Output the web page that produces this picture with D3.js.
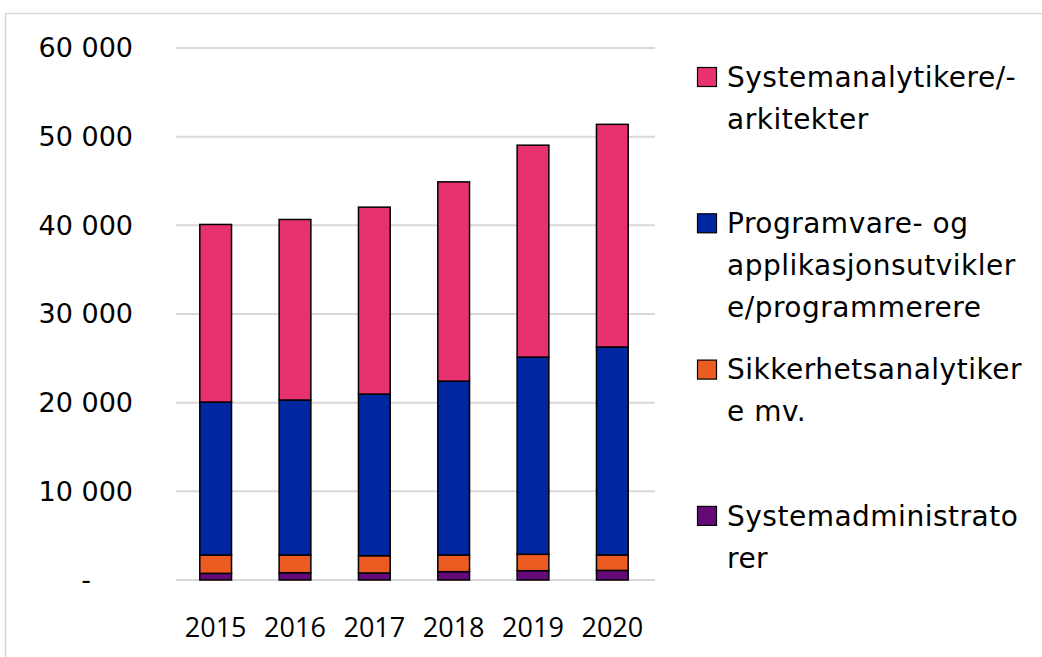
<!DOCTYPE html>
<html>
<head>
<meta charset="utf-8">
<script src="https://cdn.jsdelivr.net/npm/d3@7"></script>
<style>
  body { margin: 0; background: #fff; }
  text { font-family: "Open Sans", "Noto Sans", sans-serif; fill: #000; }
  .wide { font-family: "DejaVu Sans", "Open Sans", sans-serif; }
</style>
</head>
<body>
<div id="chart"></div>
<script>
// data
const years = ["2015", "2016", "2017", "2018", "2019", "2020"];
const systemadmin = [750, 820, 790, 940, 1050, 1080];
const sikkerhet = [2070, 2000, 1950, 1880, 1850, 1750];
const programvare = [17250, 17480, 18230, 19610, 22240, 23450];
const systemanalytikere = [20030, 20360, 21080, 22470, 23900, 25110];
const yTicks = [0, 10000, 20000, 30000, 40000, 50000, 60000];

const seriesKeys = ["systemadmin", "sikkerhet", "programvare", "systemanalytikere"];
const seriesColors = ["#640a78", "#ec5b21", "#0026a0", "#e83171"];
// legend is listed top-down in reverse stacking order
const legendLines = [
    ["Systemanalytikere/-", "arkitekter"],
    ["Programvare- og", "applikasjonsutvikler", "e/programmerere"],
    ["Sikkerhetsanalytiker", "e mv."],
    ["Systemadministrato", "rer"]
];
const legendColors = ["#e83171", "#0026a0", "#ec5b21", "#640a78"];

const width = 1042, height = 657;

const svg = d3.select("#chart")
    .append("svg")
    .attr("width", width)
    .attr("height", height);

// outer frame
svg.append("rect")
    .attr("x", 5.5)
    .attr("y", 13.5)
    .attr("width", 1100)
    .attr("height", 700)
    .attr("fill", "none")
    .attr("stroke", "#d9d9d9")
    .attr("stroke-width", 1.5);

const x = d3.scaleBand()
    .domain(years)
    .range([176, 652])
    .paddingInner(0.6)
    .paddingOuter(0.3);

const y = d3.scaleLinear()
    .domain([0, 60000])
    .range([580, 48]);

// gridlines
svg.append("g")
    .selectAll("line")
    .data(yTicks)
    .join("line")
    .attr("x1", 176)
    .attr("x2", 655)
    .attr("y1", d => y(d))
    .attr("y2", d => y(d))
    .attr("stroke", "#d9d9d9")
    .attr("stroke-width", 2);

// y labels
const fmt = d => d === 0 ? "-" : d3.format(",")(d).replace(/,/g, " ");
svg.append("g")
    .selectAll("text")
    .data(yTicks)
    .join("text")
    .attr("class", "wide")
    .attr("x", d => d === 0 ? 91 : 133)
    .attr("y", d => y(d))
    .attr("dy", "0.35em")
    .attr("text-anchor", "end")
    .attr("font-size", 27)
    .text(fmt);

// x labels
svg.append("g")
    .selectAll("text")
    .data(years)
    .join("text")
    .attr("x", d => x(d) + x.bandwidth() / 2)
    .attr("y", 637)
    .attr("text-anchor", "middle")
    .attr("font-size", 27)
    .text(d => d);

// stacked bars
const table = years.map((yr, i) => ({
    year: yr,
    systemadmin: systemadmin[i],
    sikkerhet: sikkerhet[i],
    programvare: programvare[i],
    systemanalytikere: systemanalytikere[i]
}));
const stacked = d3.stack().keys(seriesKeys)(table);

svg.append("g")
    .selectAll("g")
    .data(stacked)
    .join("g")
    .attr("fill", (d, i) => seriesColors[i])
    .selectAll("rect")
    .data(d => d)
    .join("rect")
    .attr("x", d => x(d.data.year))
    .attr("y", d => y(d[1]))
    .attr("width", x.bandwidth())
    .attr("height", d => y(d[0]) - y(d[1]))
    .attr("stroke", "#000")
    .attr("stroke-width", 1.5);

// legend
const legend = svg.append("g");
const legendStep = 146.3;
legendLines.forEach((lines, i) => {
    const cy = 77 + i * legendStep;
    legend.append("rect")
        .attr("x", 697.5)
        .attr("y", cy - 9.5)
        .attr("width", 19)
        .attr("height", 19)
        .attr("fill", legendColors[i])
        .attr("stroke", "#000")
        .attr("stroke-width", 1.2);
    lines.forEach((line, j) => {
        legend.append("text")
            .attr("class", "wide")
            .attr("x", 727)
            .attr("y", cy + j * 42)
            .attr("dy", "0.35em")
            .attr("font-size", 28)
            .attr("letter-spacing", 0.5)
            .text(line);
    });
});
</script>
</body>
</html>
